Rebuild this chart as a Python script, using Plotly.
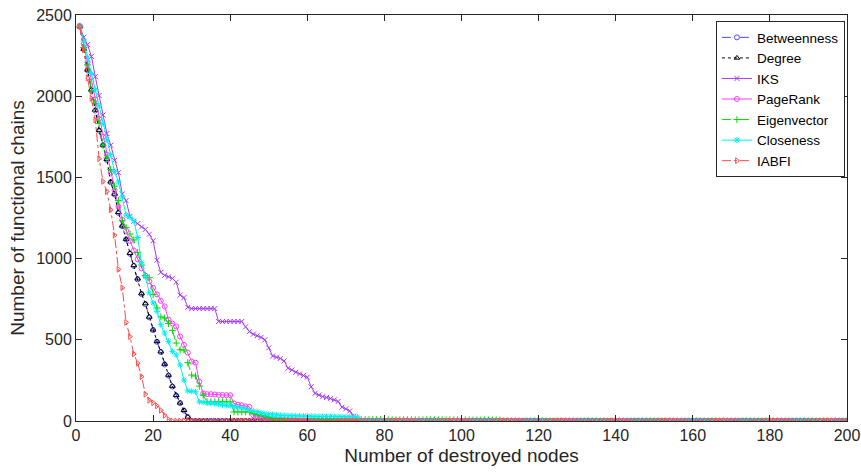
import plotly.graph_objects as go

x_nodes = list(range(1, 201))

degree = [2430, 2290, 2162, 2040, 1915, 1791, 1700, 1611, 1473, 1398,
          1285, 1202, 1120, 1033, 958, 876, 785, 723, 641, 562,
          490, 427, 351, 283, 215, 159, 112, 66, 25] + [0] * 171

betweenness = [2430, 2290, 2160, 2035, 1912, 1788, 1698, 1608, 1470, 1395,
               1282, 1200, 1118, 1030, 955, 872, 782, 720, 638, 560,
               488, 425, 348, 280, 212, 156, 110, 64, 24] + [0] * 171

iks = [2430, 2363, 2317, 2245, 2121, 2004, 1884, 1770, 1698, 1605,
       1529, 1398, 1357, 1260, 1230, 1215, 1195, 1180, 1150, 1110,
       990, 915, 897, 888, 878, 855, 775, 760, 700, 692,
       692, 692, 692, 692, 692, 692, 613, 613, 613, 613,
       613, 613, 613, 580, 550, 535, 525, 515, 500, 450,
       400, 393, 385, 370, 325, 314, 300, 290, 280, 270,
       211, 170, 160, 150, 145, 139, 130, 120, 85, 75,
       62, 30, 8] + [0] * 127

pagerank = [2430, 2320, 2210, 2090, 1980, 1860, 1750, 1640, 1530, 1420,
            1320, 1240, 1171, 1109, 1050, 996, 940, 895, 860, 820,
            780, 740, 706, 624, 600, 582, 520, 469, 421, 366,
            359, 242, 170, 165, 165, 163, 160, 160, 159, 159,
            108, 100, 97, 90, 87, 35, 30, 25, 21, 15,
            12, 10, 8, 6, 5, 4, 3, 2, 1] + [0] * 141

eigenvector = [2430, 2300, 2193, 2032, 1956, 1832, 1698, 1620, 1549, 1446,
               1357, 1233, 1190, 1151, 1115, 1037, 960, 895, 882, 779,
               696, 641, 634, 600, 558, 480, 438, 438, 359, 283,
               277, 215, 159, 118, 118, 118, 118, 118, 118, 118,
               56, 56, 56, 56, 56, 45, 40, 35, 29, 22,
               18, 15, 12, 10, 10, 10, 9, 9, 9, 9,
               9, 9, 8, 8, 8, 8, 8, 8, 8, 8,
               8, 8, 8, 8, 8, 8, 8, 8, 8, 8,
               7, 7, 7, 7, 7, 7, 7, 7, 7, 7,
               7, 7, 7, 7, 7, 7, 7, 7, 7, 7,
               6, 6, 6, 6, 6, 6, 6, 6, 6, 6] + [0] * 90

closeness = [2430, 2340, 2240, 2140, 2040, 1940, 1830, 1730, 1640, 1537,
             1471, 1378, 1268, 1254, 1233, 1130, 975, 888, 789, 727,
             675, 593, 541, 490, 428, 407, 345, 252, 186, 183,
             180, 118, 115, 112, 110, 108, 105, 100, 97, 95,
             90, 85, 80, 76, 66, 62, 58, 50, 45, 42,
             40, 37, 35, 34, 33, 33, 32, 31, 30, 30,
             29, 29, 28, 28, 27, 27, 26, 26, 26, 25,
             25, 25, 25] + [0] * 127

iabfi = [2430, 2286, 2111, 1987, 1853, 1615, 1475, 1413, 1301, 1144,
         934, 820, 607, 520, 413, 356, 273, 165, 128, 112,
         93, 66, 35, 9] + [0] * 176

series = [
    ("Betweenness", betweenness, "#4a4aff", "dash", "circle-open"),
    ("Degree", degree, "#000000", "dot", "triangle-up-open"),
    ("IKS", iks, "#a63cf5", "solid", "x-thin-open"),
    ("PageRank", pagerank, "#ff3cff", "solid", "circle-open"),
    ("Eigenvector", eigenvector, "#00d800", "dash", "cross-thin-open"),
    ("Closeness", closeness, "#00f0f0", "solid", "asterisk-open"),
    ("IABFI", iabfi, "#ff4a4a", "dashdot", "triangle-right-open"),
]

fig = go.Figure()
for name, vals, color, dash, sym in series:
    fig.add_trace(go.Scatter(
        x=x_nodes, y=vals, name=name, mode="lines+markers",
        line=dict(color=color, width=1, dash=dash),
        marker=dict(symbol=sym, size=5, color=color, line=dict(width=1, color=color)),
    ))

axis_common = dict(
    showline=True, linecolor="#262626", linewidth=1, mirror="ticks",
    ticks="inside", ticklen=6, tickcolor="#262626", showgrid=False, zeroline=False,
    automargin=False, ticklabeloverflow="allow",
    tickfont=dict(family="Liberation Sans, Arial", size=16, color="#262626"),
)

fig.update_layout(
    width=861, height=472,
    margin=dict(l=76, r=14, t=15, b=51),
    paper_bgcolor="white", plot_bgcolor="white",
    xaxis=dict(range=[0, 200], tickvals=list(range(0, 201, 20)),
               title=dict(text="Number of destroyed nodes", standoff=5,
                          font=dict(family="Liberation Sans, Arial", size=19, color="#262626")),
               **axis_common),
    yaxis=dict(range=[0, 2500], tickvals=list(range(0, 2501, 500)),
               title=dict(text="Number of functional chains", standoff=6,
                          font=dict(family="Liberation Sans, Arial", size=19, color="#262626")),
               **axis_common),
    legend=dict(x=0.83, y=0.985, xanchor="left", yanchor="top",
                bordercolor="#262626", borderwidth=1, bgcolor="white",
                font=dict(family="Liberation Sans, Arial", size=13.5, color="#000000"),
                tracegroupgap=0, itemwidth=30),
    showlegend=True,
)

fig.write_html("out.html", config={"displayModeBar": False},
               post_script="document.body.style.margin='0';document.body.style.overflow='hidden';")
